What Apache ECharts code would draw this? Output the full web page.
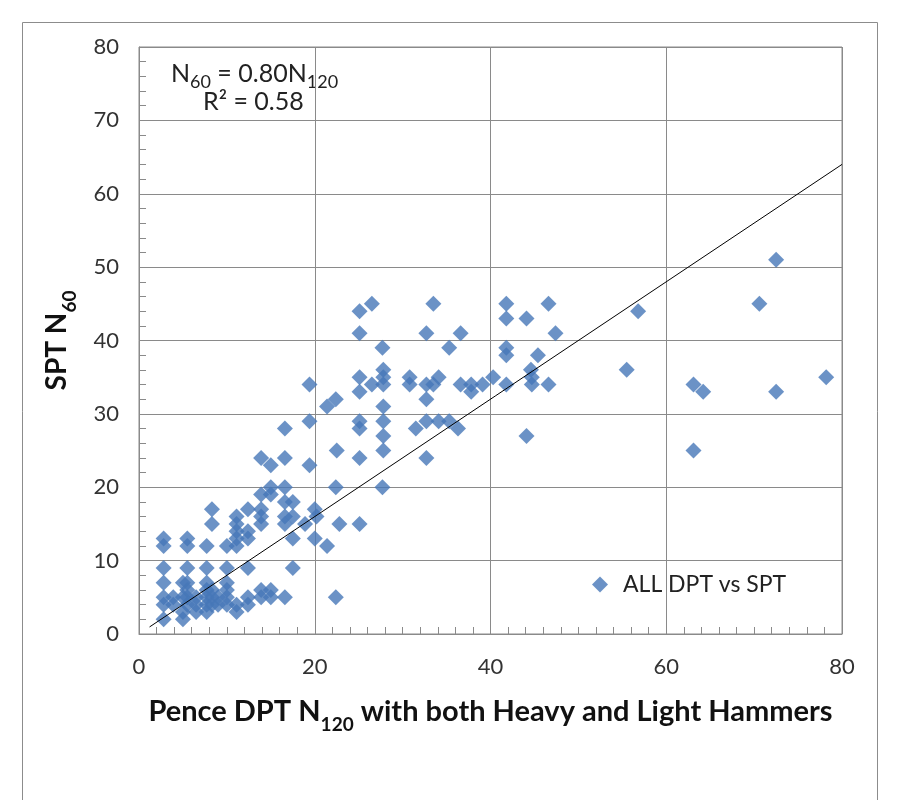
<!DOCTYPE html>
<html lang="en">
  <head>
    <meta charset="UTF-8" />
    <title>DPT vs SPT</title>
    <script src="https://cdn.jsdelivr.net/npm/echarts@6/dist/echarts.min.js"></script>
    <style>
      body { margin: 0; background: #fff; }
    </style>
  </head>
  <body>
    <div id="main" style="width: 898px; height: 800px;"></div>
    <script>
      // Pence DPT N120 (x) and SPT N60 (y)
      var dptN120 = [
        2.8, 2.8, 2.8, 2.8, 2.8, 2.8, 2.8,
        3.9, 3.9,
        5.0, 5.0, 5.0, 5.0,
        5.5, 5.5, 5.5, 5.5, 5.5, 5.5, 5.5,
        6.5, 6.5, 6.5,
        7.7, 7.7, 7.7, 7.7, 7.7, 7.7, 7.7,
        8.3, 8.3, 8.3, 8.3, 8.3,
        9.0, 9.0,
        10.0, 10.0, 10.0, 10.0, 10.0, 10.0,
        11.1, 11.1, 11.1, 11.1, 11.1, 11.1, 11.1,
        12.4, 12.4, 12.4, 12.4, 12.4, 12.4,
        13.9, 13.9, 13.9, 13.9, 13.9, 13.9, 13.9,
        15.0, 15.0, 15.0, 15.0, 15.0,
        16.6, 16.6, 16.6, 16.6, 16.6, 16.6, 16.6,
        17.5, 17.5, 17.5, 17.5,
        18.9,
        19.4, 19.4, 19.4,
        20.0, 20.2, 20.0,
        21.4, 21.4,
        22.4, 22.4, 22.4,
        22.5, 22.8,
        25.1, 25.1, 25.1, 25.1, 25.1, 25.1, 25.1, 25.1,
        26.5, 26.5,
        27.7, 27.8, 27.8, 27.8, 27.8, 27.8, 27.8, 27.8, 27.7,
        30.8, 30.8, 31.5,
        32.7, 32.7, 32.7, 32.7, 32.7,
        33.5, 33.5, 34.1, 34.1,
        35.3, 35.3,
        36.3, 36.6, 36.6,
        37.8, 37.8,
        39.1, 40.3,
        41.8, 41.8, 41.8, 41.8, 41.8,
        44.1, 44.1,
        44.6, 44.7, 44.7,
        45.4, 46.6, 46.6, 47.4,
        55.5, 56.8,
        63.1, 63.1, 64.2,
        70.6, 72.5, 72.5, 78.2
      ];
      var sptN60 = [
        13, 12, 9, 7, 5, 4, 2,
        5, 4,
        7, 5, 3, 2,
        13, 12, 9, 7, 6, 5, 4,
        5, 4, 3,
        12, 9, 7, 6, 5, 4, 3,
        17, 15, 6, 5, 4,
        5, 4,
        12, 9, 7, 6, 5, 4,
        16, 15, 14, 13, 12, 4, 3,
        17, 14, 13, 9, 5, 4,
        24, 19, 17, 16, 15, 6, 5,
        23, 20, 19, 6, 5,
        28, 24, 20, 18, 16, 15, 5,
        18, 16, 13, 9,
        15,
        34, 29, 23,
        17, 16, 13,
        31, 12,
        32, 20, 5,
        25, 15,
        44, 41, 35, 33, 29, 28, 24, 15,
        45, 34,
        39, 36, 35, 34, 31, 29, 27, 25, 20,
        35, 34, 28,
        41, 34, 32, 29, 24,
        45, 34, 35, 29,
        39, 29,
        28, 41, 34,
        34, 33,
        34, 35,
        45, 43, 39, 38, 34,
        43, 27,
        36, 35, 34,
        38, 45, 34, 41,
        36, 44,
        34, 25, 33,
        45, 51, 33, 35
      ];
      // linear trendline through the origin: N60 = 0.80 N120
      var slope = 0.8;
      var trendX = [1.2, 80];

      var points = [];
      for (var i = 0; i < dptN120.length; i++) {
        points.push([dptN120[i], sptN60[i]]);
      }
      var trend = trendX.map(function (x) { return [x, slope * x]; });

      var font = "Lato, 'Open Sans', sans-serif";
      var gridColor = "#8a8a8a";

      var myChart = echarts.init(document.getElementById("main"));
      var option = {
        animation: false,
        backgroundColor: "#fff",
        textStyle: { fontFamily: font },
        grid: {
          left: 139, right: 56, top: 47, bottom: 166,
          show: true, borderColor: gridColor, borderWidth: 1
        },
        graphic: [
          {
            type: "rect",
            shape: { x: 22.5, y: 22.5, width: 855, height: 800 },
            style: { fill: null, stroke: "#8c8c8c", lineWidth: 1 },
            silent: true
          },
          {
            type: "text",
            left: 171, top: 61,
            style: {
              text: "{a|N}{s|60}{a| = 0.80N}{s|120}",
              rich: {
                a: { fontSize: 25, fontFamily: font, fill: "#222", padding: [0, 0, 5, 0], verticalAlign: "bottom" },
                s: { fontSize: 18, fontFamily: font, fill: "#222", verticalAlign: "bottom" }
              }
            }
          },
          {
            type: "text",
            left: 203, top: 89,
            style: {
              text: "R² = 0.58",
              fontSize: 25, fontFamily: font, fill: "#222"
            }
          }
        ],
        legend: {
          data: ["ALL DPT vs SPT"],
          left: 587, top: 568,
          icon: "diamond",
          itemWidth: 16, itemHeight: 16, itemGap: 10,
          textStyle: { fontSize: 23, color: "#222", fontFamily: font, padding: [0, 0, 0, 10] }
        },
        xAxis: {
          type: "value",
          min: 0, max: 80, interval: 20,
          name: "{a|Pence DPT N}{s|120}{a| with both Heavy and Light Hammers}",
          nameLocation: "middle",
          nameGap: 63,
          nameTextStyle: {
            rich: {
              a: { fontSize: 29, fontWeight: "bold", fontFamily: font, color: "#111", padding: [0, 0, 8, 0], verticalAlign: "bottom" },
              s: { fontSize: 19, fontWeight: "bold", fontFamily: font, color: "#111", verticalAlign: "bottom" }
            }
          },
          axisLine: { lineStyle: { color: gridColor } },
          axisTick: { inside: true, length: 8, lineStyle: { color: gridColor } },
          minorTick: { show: true, splitNumber: 10, length: 7, lineStyle: { color: gridColor } },
          axisLabel: { fontSize: 22, color: "#333", margin: 22, fontFamily: font },
          splitLine: { lineStyle: { color: gridColor } }
        },
        yAxis: {
          type: "value",
          min: 0, max: 80, interval: 10,
          name: "{a|SPT N}{s|60}",
          nameLocation: "middle",
          nameGap: 60,
          nameTextStyle: {
            rich: {
              a: { fontSize: 28, fontWeight: "bold", fontFamily: font, color: "#111", padding: [0, 0, 8, 0], verticalAlign: "bottom" },
              s: { fontSize: 19, fontWeight: "bold", fontFamily: font, color: "#111", verticalAlign: "bottom" }
            }
          },
          axisLine: { show: true, lineStyle: { color: gridColor } },
          axisTick: { show: true, inside: true, length: 8, lineStyle: { color: gridColor } },
          minorTick: { show: true, splitNumber: 5, length: 7, lineStyle: { color: gridColor } },
          axisLabel: { fontSize: 22, color: "#333", margin: 20, fontFamily: font },
          splitLine: { lineStyle: { color: gridColor } }
        },
        series: [
          {
            name: "ALL DPT vs SPT",
            type: "scatter",
            symbol: "diamond",
            symbolSize: 16,
            itemStyle: { color: "#4677b8" },
            data: points,
            z: 3
          },
          {
            name: "Linear trend",
            type: "line",
            showSymbol: false,
            symbol: "none",
            lineStyle: { color: "#000", width: 1 },
            data: trend,
            z: 4
          }
        ]
      };
      myChart.setOption(option);
    </script>
  </body>
</html>
